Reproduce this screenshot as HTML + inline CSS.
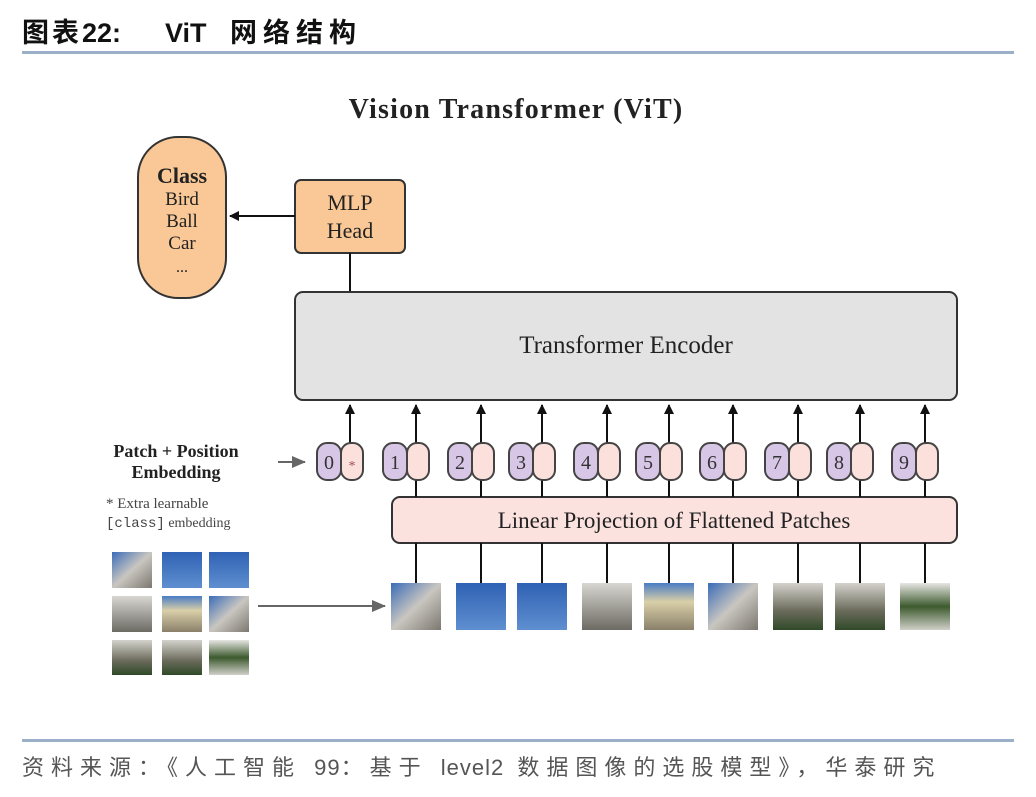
<!DOCTYPE html>
<html><head><meta charset="utf-8"><style>
body{margin:0;background:#fff;width:1036px;height:792px;overflow:hidden;}
</style></head><body>
<svg width="1036" height="792" xmlns="http://www.w3.org/2000/svg">
<defs>
<linearGradient id="gb" x1="0" y1="0" x2="0" y2="1"><stop offset="0" stop-color="#2f62b4"/><stop offset="1" stop-color="#5f8fd0"/></linearGradient>
<linearGradient id="gbld" x1="0" y1="0" x2="1" y2="1"><stop offset="0" stop-color="#3a6cb8"/><stop offset="0.5" stop-color="#c9c6c0"/><stop offset="1" stop-color="#7c7870"/></linearGradient>
<linearGradient id="ggr" x1="0" y1="0" x2="0" y2="1"><stop offset="0" stop-color="#d8d6d0"/><stop offset="1" stop-color="#6d6a64"/></linearGradient>
<linearGradient id="gyl" x1="0" y1="0" x2="0" y2="1"><stop offset="0" stop-color="#4a7cc4"/><stop offset="0.4" stop-color="#d9cfa8"/><stop offset="1" stop-color="#8a806a"/></linearGradient>
<linearGradient id="ggn" x1="0" y1="0" x2="0" y2="1"><stop offset="0" stop-color="#d4d2cc"/><stop offset="0.6" stop-color="#6a6a5a"/><stop offset="1" stop-color="#2f4a28"/></linearGradient>
<linearGradient id="ggw" x1="0" y1="0" x2="0" y2="1"><stop offset="0" stop-color="#e6e6e2"/><stop offset="0.5" stop-color="#3d5a2e"/><stop offset="1" stop-color="#cfcfc8"/></linearGradient>
<marker id="ah" markerWidth="10" markerHeight="10" refX="9" refY="5" orient="auto" markerUnits="userSpaceOnUse"><path d="M0,0 L10,5 L0,10 z" fill="#111"/></marker>
<marker id="ahg" markerWidth="14" markerHeight="12" refX="13" refY="6" orient="auto" markerUnits="userSpaceOnUse"><path d="M0,0 L14,6 L0,12 z" fill="#666"/></marker>
</defs>
<text x="22" y="42" font-family="Liberation Sans, Noto Sans CJK SC, sans-serif" font-size="27" font-weight="bold" fill="#111"><tspan letter-spacing="3">图表</tspan><tspan>22:</tspan><tspan x="165">ViT</tspan><tspan x="230" letter-spacing="6">网络结构</tspan></text>
<rect x="22" y="51" width="992" height="3" fill="#9bb0c8"/>
<text x="516" y="118" text-anchor="middle" font-family="Liberation Serif, serif" font-size="28" font-weight="bold" fill="#222" letter-spacing="1.2">Vision Transformer (ViT)</text>
<rect x="138" y="137" width="88" height="161" rx="40" fill="#f9c896" stroke="#333" stroke-width="2"/>
<g font-family="Liberation Serif, serif" fill="#222" text-anchor="middle">
<text x="182" y="183" font-size="22" font-weight="bold">Class</text>
<text x="182" y="205" font-size="19">Bird</text>
<text x="182" y="227" font-size="19">Ball</text>
<text x="182" y="249" font-size="19">Car</text>
<text x="182" y="272" font-size="16">...</text>
</g>
<rect x="295" y="180" width="110" height="73" rx="6" fill="#f9c896" stroke="#333" stroke-width="2"/>
<text x="350" y="210" text-anchor="middle" font-family="Liberation Serif, serif" font-size="22" fill="#222">MLP</text>
<text x="350" y="238" text-anchor="middle" font-family="Liberation Serif, serif" font-size="22" fill="#222">Head</text>
<line x1="295" y1="216" x2="230" y2="216" stroke="#111" stroke-width="2" marker-end="url(#ah)"/>
<line x1="350" y1="253" x2="350" y2="292" stroke="#111" stroke-width="2"/>
<rect x="295" y="292" width="662" height="108" rx="8" fill="#e3e3e3" stroke="#333" stroke-width="2"/>
<text x="626" y="353" text-anchor="middle" font-family="Liberation Serif, serif" font-size="25" fill="#222">Transformer Encoder</text>
<rect x="392" y="497" width="565" height="46" rx="8" fill="#fbe2df" stroke="#333" stroke-width="2"/>
<text x="674" y="528" text-anchor="middle" font-family="Liberation Serif, serif" font-size="23" fill="#222">Linear Projection of Flattened Patches</text>
<g font-family="Liberation Serif, serif" fill="#222">
<text x="176" y="457" text-anchor="middle" font-size="18" font-weight="bold">Patch + Position</text>
<text x="176" y="478" text-anchor="middle" font-size="18" font-weight="bold">Embedding</text>
<text x="106" y="508" font-size="15" fill="#444">* Extra learnable</text>
<text x="106" y="527" font-size="14" fill="#444"><tspan font-family="Liberation Mono, monospace">[class]</tspan> embedding</text>
</g>
<line x1="278" y1="462" x2="305" y2="462" stroke="#666" stroke-width="2" marker-end="url(#ahg)"/>
<line x1="258" y1="606" x2="385" y2="606" stroke="#666" stroke-width="2" marker-end="url(#ahg)"/>
<g font-family="Liberation Serif, serif" font-size="20" fill="#333">
<line x1="350" y1="443" x2="350" y2="405" stroke="#111" stroke-width="2" marker-end="url(#ah)"/>
<rect x="317" y="443" width="24" height="37" rx="10" fill="#d8c6e6" stroke="#444" stroke-width="2"/>
<rect x="341" y="443" width="22" height="37" rx="10" fill="#fbe0dc" stroke="#444" stroke-width="2"/>
<text x="329" y="469" text-anchor="middle">0</text>
<text x="352" y="470" text-anchor="middle" font-size="14" fill="#a05050">*</text>
</g>
<g font-family="Liberation Serif, serif" font-size="20" fill="#333">
<g transform="translate(416,0)"><line x1="0" y1="443" x2="0" y2="405" stroke="#111" stroke-width="2" marker-end="url(#ah)"/><line x1="0" y1="480" x2="0" y2="497" stroke="#111" stroke-width="2"/><line x1="0" y1="543" x2="0" y2="583" stroke="#111" stroke-width="2"/><rect x="-33" y="443" width="24" height="37" rx="10" fill="#d8c6e6" stroke="#444" stroke-width="2"/><rect x="-9" y="443" width="22" height="37" rx="10" fill="#fbe0dc" stroke="#444" stroke-width="2"/><text x="-21" y="469" text-anchor="middle">1</text><rect x="-25" y="583" width="50" height="47" fill="url(#gbld)"/></g>
<g transform="translate(481,0)"><line x1="0" y1="443" x2="0" y2="405" stroke="#111" stroke-width="2" marker-end="url(#ah)"/><line x1="0" y1="480" x2="0" y2="497" stroke="#111" stroke-width="2"/><line x1="0" y1="543" x2="0" y2="583" stroke="#111" stroke-width="2"/><rect x="-33" y="443" width="24" height="37" rx="10" fill="#d8c6e6" stroke="#444" stroke-width="2"/><rect x="-9" y="443" width="22" height="37" rx="10" fill="#fbe0dc" stroke="#444" stroke-width="2"/><text x="-21" y="469" text-anchor="middle">2</text><rect x="-25" y="583" width="50" height="47" fill="url(#gb)"/></g>
<g transform="translate(542,0)"><line x1="0" y1="443" x2="0" y2="405" stroke="#111" stroke-width="2" marker-end="url(#ah)"/><line x1="0" y1="480" x2="0" y2="497" stroke="#111" stroke-width="2"/><line x1="0" y1="543" x2="0" y2="583" stroke="#111" stroke-width="2"/><rect x="-33" y="443" width="24" height="37" rx="10" fill="#d8c6e6" stroke="#444" stroke-width="2"/><rect x="-9" y="443" width="22" height="37" rx="10" fill="#fbe0dc" stroke="#444" stroke-width="2"/><text x="-21" y="469" text-anchor="middle">3</text><rect x="-25" y="583" width="50" height="47" fill="url(#gb)"/></g>
<g transform="translate(607,0)"><line x1="0" y1="443" x2="0" y2="405" stroke="#111" stroke-width="2" marker-end="url(#ah)"/><line x1="0" y1="480" x2="0" y2="497" stroke="#111" stroke-width="2"/><line x1="0" y1="543" x2="0" y2="583" stroke="#111" stroke-width="2"/><rect x="-33" y="443" width="24" height="37" rx="10" fill="#d8c6e6" stroke="#444" stroke-width="2"/><rect x="-9" y="443" width="22" height="37" rx="10" fill="#fbe0dc" stroke="#444" stroke-width="2"/><text x="-21" y="469" text-anchor="middle">4</text><rect x="-25" y="583" width="50" height="47" fill="url(#ggr)"/></g>
<g transform="translate(669,0)"><line x1="0" y1="443" x2="0" y2="405" stroke="#111" stroke-width="2" marker-end="url(#ah)"/><line x1="0" y1="480" x2="0" y2="497" stroke="#111" stroke-width="2"/><line x1="0" y1="543" x2="0" y2="583" stroke="#111" stroke-width="2"/><rect x="-33" y="443" width="24" height="37" rx="10" fill="#d8c6e6" stroke="#444" stroke-width="2"/><rect x="-9" y="443" width="22" height="37" rx="10" fill="#fbe0dc" stroke="#444" stroke-width="2"/><text x="-21" y="469" text-anchor="middle">5</text><rect x="-25" y="583" width="50" height="47" fill="url(#gyl)"/></g>
<g transform="translate(733,0)"><line x1="0" y1="443" x2="0" y2="405" stroke="#111" stroke-width="2" marker-end="url(#ah)"/><line x1="0" y1="480" x2="0" y2="497" stroke="#111" stroke-width="2"/><line x1="0" y1="543" x2="0" y2="583" stroke="#111" stroke-width="2"/><rect x="-33" y="443" width="24" height="37" rx="10" fill="#d8c6e6" stroke="#444" stroke-width="2"/><rect x="-9" y="443" width="22" height="37" rx="10" fill="#fbe0dc" stroke="#444" stroke-width="2"/><text x="-21" y="469" text-anchor="middle">6</text><rect x="-25" y="583" width="50" height="47" fill="url(#gbld)"/></g>
<g transform="translate(798,0)"><line x1="0" y1="443" x2="0" y2="405" stroke="#111" stroke-width="2" marker-end="url(#ah)"/><line x1="0" y1="480" x2="0" y2="497" stroke="#111" stroke-width="2"/><line x1="0" y1="543" x2="0" y2="583" stroke="#111" stroke-width="2"/><rect x="-33" y="443" width="24" height="37" rx="10" fill="#d8c6e6" stroke="#444" stroke-width="2"/><rect x="-9" y="443" width="22" height="37" rx="10" fill="#fbe0dc" stroke="#444" stroke-width="2"/><text x="-21" y="469" text-anchor="middle">7</text><rect x="-25" y="583" width="50" height="47" fill="url(#ggn)"/></g>
<g transform="translate(860,0)"><line x1="0" y1="443" x2="0" y2="405" stroke="#111" stroke-width="2" marker-end="url(#ah)"/><line x1="0" y1="480" x2="0" y2="497" stroke="#111" stroke-width="2"/><line x1="0" y1="543" x2="0" y2="583" stroke="#111" stroke-width="2"/><rect x="-33" y="443" width="24" height="37" rx="10" fill="#d8c6e6" stroke="#444" stroke-width="2"/><rect x="-9" y="443" width="22" height="37" rx="10" fill="#fbe0dc" stroke="#444" stroke-width="2"/><text x="-21" y="469" text-anchor="middle">8</text><rect x="-25" y="583" width="50" height="47" fill="url(#ggn)"/></g>
<g transform="translate(925,0)"><line x1="0" y1="443" x2="0" y2="405" stroke="#111" stroke-width="2" marker-end="url(#ah)"/><line x1="0" y1="480" x2="0" y2="497" stroke="#111" stroke-width="2"/><line x1="0" y1="543" x2="0" y2="583" stroke="#111" stroke-width="2"/><rect x="-33" y="443" width="24" height="37" rx="10" fill="#d8c6e6" stroke="#444" stroke-width="2"/><rect x="-9" y="443" width="22" height="37" rx="10" fill="#fbe0dc" stroke="#444" stroke-width="2"/><text x="-21" y="469" text-anchor="middle">9</text><rect x="-25" y="583" width="50" height="47" fill="url(#ggw)"/></g>
</g>
<rect x="112" y="552" width="40" height="36" fill="url(#gbld)"/>
<rect x="162" y="552" width="40" height="36" fill="url(#gb)"/>
<rect x="209" y="552" width="40" height="36" fill="url(#gb)"/>
<rect x="112" y="596" width="40" height="36" fill="url(#ggr)"/>
<rect x="162" y="596" width="40" height="36" fill="url(#gyl)"/>
<rect x="209" y="596" width="40" height="36" fill="url(#gbld)"/>
<rect x="112" y="640" width="40" height="35" fill="url(#ggn)"/>
<rect x="162" y="640" width="40" height="35" fill="url(#ggn)"/>
<rect x="209" y="640" width="40" height="35" fill="url(#ggw)"/>
<rect x="22" y="739" width="992" height="3" fill="#9bb0c8"/>
<text x="22" y="775" font-family="Liberation Sans, Noto Sans CJK SC, sans-serif" font-size="22" fill="#555" letter-spacing="7">资料来源：《人工智能 <tspan letter-spacing="1">99</tspan>：基于 <tspan letter-spacing="1">level2</tspan> 数据图像的选股模型》，华泰研究</text>
</svg>
</body></html>
